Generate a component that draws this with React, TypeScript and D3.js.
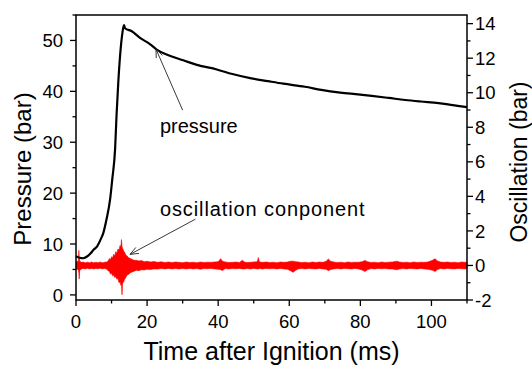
import React from "react";
import * as d3 from "d3";

// ---------- data ----------
const pressureTime = [0, 1, 2, 3, 4, 5, 6, 7, 7.7, 8.6, 9.6, 10.2, 11.0, 11.4, 11.9, 12.4, 13.1, 13.5, 13.8, 15.7, 18.0, 20.8, 22.7, 26, 30.2, 34, 39.6, 44, 49, 54, 58.3, 64.4, 69, 73.8, 78, 83.2, 88, 92.6, 97, 102, 106, 110];
const pressureBar = [7.6, 7.3, 7.2, 7.5, 8.1, 8.9, 9.6, 11, 12.2, 14.9, 18.8, 22.7, 28.7, 35.2, 41.8, 47, 51.7, 53.0, 52.4, 51.8, 50.5, 49.3, 48.2, 47.1, 46.1, 45.2, 44.3, 43.4, 42.6, 42.0, 41.5, 40.9, 40.3, 39.8, 39.5, 39.1, 38.7, 38.3, 38.0, 37.7, 37.3, 36.9];

// oscillation envelope (upper / lower extremes), ms and bar
const oscTime = [
  0, 0.5, 0.7, 0.8, 0.9, 1.05, 1.5, 2, 2.6, 3.2,
  3.8, 4.4, 5, 5.6, 6.2, 6.8, 7.4, 8, 8.6, 9.0,
  9.4, 9.7, 10, 10.3, 10.6, 10.9, 11.2, 11.5, 11.8, 12.1,
  12.4, 12.6, 12.8, 12.95, 13.1, 13.4, 13.7, 14.0, 14.4, 14.8,
  15.3, 15.8, 16.4, 17, 17.7, 18.4, 19.2, 20, 21, 21.8,
  23, 24, 25, 26, 27, 28, 29, 30, 31, 32,
  33, 34, 35, 36, 37, 38, 39, 40, 40.7, 41.2,
  42, 43, 44, 45, 46, 46.8, 47.4, 48.2, 49, 50,
  51, 51.3, 51.6, 52.5, 53.5, 54.5, 55.5, 56.5, 57.5, 58.5,
  59.5, 60.3, 61.1, 61.8, 62.5, 63.5, 64.5, 65.5, 66.5, 67.5,
  68.5, 69.5, 70.4, 71, 71.6, 72.5, 73.5, 74.5, 75.5, 76.5,
  77.5, 78.5, 79.5, 80.5, 81.3, 82, 83, 84, 85, 86,
  87, 88, 89, 90.2, 91, 92, 93, 94, 95, 96,
  97, 98, 99, 100.3, 101, 101.7, 102.5, 103.5, 104.5, 105.5,
  106.5, 107.5, 108.5, 109.5, 110,
];
const oscUpper = [
  0.2, 0.25, 0.3, 0.87, 0.5, 0.25, 0.18, 0.2, 0.15, 0.19,
  0.16, 0.2, 0.15, 0.19, 0.16, 0.2, 0.15, 0.19, 0.2, 0.25,
  0.4, 0.33, 0.5, 0.45, 0.65, 0.55, 0.8, 0.7, 0.95, 0.9,
  1.15, 1.05, 1.5, 1.1, 1.0, 0.85, 0.75, 0.6, 0.55, 0.45,
  0.4, 0.35, 0.3, 0.3, 0.26, 0.28, 0.22, 0.24, 0.2, 0.23,
  0.18, 0.21, 0.17, 0.2, 0.17, 0.2, 0.18, 0.16, 0.2, 0.17,
  0.19, 0.16, 0.2, 0.17, 0.19, 0.18, 0.2, 0.22, 0.39, 0.25,
  0.2, 0.17, 0.18, 0.2, 0.17, 0.3, 0.2, 0.17, 0.18, 0.2,
  0.22, 0.46, 0.2, 0.18, 0.2, 0.17, 0.19, 0.16, 0.2, 0.18,
  0.2, 0.24, 0.25, 0.22, 0.2, 0.17, 0.19, 0.16, 0.2, 0.17,
  0.2, 0.18, 0.25, 0.37, 0.25, 0.2, 0.17, 0.19, 0.16, 0.2,
  0.17, 0.19, 0.18, 0.22, 0.29, 0.22, 0.17, 0.19, 0.16, 0.2,
  0.17, 0.19, 0.2, 0.25, 0.2, 0.17, 0.19, 0.16, 0.2, 0.17,
  0.19, 0.18, 0.2, 0.3, 0.39, 0.26, 0.2, 0.18, 0.2, 0.17,
  0.19, 0.16, 0.2, 0.18, 0.19,
];
const oscLower = [
  -0.2, -0.22, -0.3, -0.45, -0.79, -0.3, -0.2, -0.17, -0.2, -0.16,
  -0.2, -0.18, -0.2, -0.17, -0.19, -0.16, -0.2, -0.18, -0.2, -0.3,
  -0.35, -0.5, -0.45, -0.6, -0.55, -0.7, -0.65, -0.8, -0.75, -1.0,
  -0.95, -1.15, -1.1, -1.7, -1.05, -0.95, -0.8, -0.7, -0.55, -0.52,
  -0.42, -0.38, -0.33, -0.28, -0.3, -0.25, -0.26, -0.22, -0.24, -0.2,
  -0.21, -0.18, -0.2, -0.17, -0.2, -0.18, -0.2, -0.18, -0.2, -0.17,
  -0.2, -0.18, -0.22, -0.18, -0.19, -0.17, -0.2, -0.22, -0.25, -0.29,
  -0.18, -0.2, -0.18, -0.19, -0.17, -0.2, -0.2, -0.18, -0.2, -0.17,
  -0.2, -0.2, -0.18, -0.2, -0.17, -0.19, -0.18, -0.2, -0.17, -0.2,
  -0.22, -0.3, -0.4, -0.28, -0.2, -0.18, -0.2, -0.17, -0.19, -0.2,
  -0.17, -0.2, -0.22, -0.3, -0.24, -0.2, -0.18, -0.2, -0.17, -0.19,
  -0.2, -0.17, -0.2, -0.27, -0.35, -0.25, -0.18, -0.2, -0.17, -0.19,
  -0.18, -0.2, -0.2, -0.25, -0.21, -0.18, -0.2, -0.17, -0.19, -0.2,
  -0.17, -0.2, -0.22, -0.28, -0.35, -0.24, -0.18, -0.2, -0.17, -0.19,
  -0.2, -0.17, -0.19, -0.2, -0.18,
];

const xTicks = [0, 20, 40, 60, 80, 100];
const xMinor = [10, 30, 50, 70, 90, 110];
const leftTicks = [0, 10, 20, 30, 40, 50];
const leftMinor = [5, 15, 25, 35, 45, 55];
const rightTicks = [-2, 0, 2, 4, 6, 8, 10, 12, 14];
const rightMinor = [-1, 1, 3, 5, 7, 9, 11, 13];

// ---------- layout ----------
const W = 532, H = 369;
const L = 76, R = 467, T = 15, B = 300;
const FONT = "'Liberation Sans', Arial, sans-serif";

export default function App() {
  const x = d3.scaleLinear().domain([0, 110]).range([L, R]);
  const yL = d3.scaleLinear().domain([-1, 55]).range([B, T]);
  const yR = d3.scaleLinear().domain([-2, 14.5]).range([B, T]);

  const pData = pressureTime.map((t, i) => [t, pressureBar[i]] as [number, number]);
  const line = d3.line<[number, number]>().x(d => x(d[0])).y(d => yL(d[1])).curve(d3.curveMonotoneX);

  const oData = oscTime.map((t, i) => ({ t, u: oscUpper[i], l: oscLower[i] }));
  const area = d3.area<{ t: number; u: number; l: number }>().x(d => x(d.t)).y0(d => yR(d.l)).y1(d => yR(d.u));

  const majorLen = 6, minorLen = 3.5;
  const tickStyle = { stroke: "#000", strokeWidth: 1.3 };

  const arrow = (x1: number, y1: number, x2: number, y2: number) => {
    const a = Math.atan2(y2 - y1, x2 - x1);
    const len = 9, sp = 0.38;
    const p1 = [x2 - len * Math.cos(a - sp), y2 - len * Math.sin(a - sp)];
    const p2 = [x2 - len * Math.cos(a + sp), y2 - len * Math.sin(a + sp)];
    return (
      <g stroke="#222" strokeWidth={0.9} fill="none">
        <line x1={x1} y1={y1} x2={x2} y2={y2} />
        <polyline points={`${p1[0]},${p1[1]} ${x2},${y2} ${p2[0]},${p2[1]}`} />
      </g>
    );
  };

  return (
    <svg width={W} height={H} style={{ position: "absolute", left: 0, top: 0, background: "#fff" }} fontFamily={FONT}>
      <rect x={0} y={0} width={W} height={H} fill="#fff" />
      {/* data */}
      <path d={area(oData) ?? ""} fill="#ff0000" stroke="#ff0000" strokeWidth={0.6} />
      <path d={line(pData) ?? ""} fill="none" stroke="#000" strokeWidth={2.2} />

      {/* frame */}
      <rect x={L} y={T} width={R - L} height={B - T} fill="none" stroke="#000" strokeWidth={1.5} />

      {/* bottom axis */}
      {xTicks.map(v => (
        <g key={"xt" + v}>
          <line x1={x(v)} x2={x(v)} y1={B} y2={B + majorLen} {...tickStyle} />
          <text x={x(v)} y={328} fontSize={18.5} textAnchor="middle">{v}</text>
        </g>
      ))}
      {xMinor.map(v => (
        <line key={"xm" + v} x1={x(v)} x2={x(v)} y1={B} y2={B + minorLen} {...tickStyle} />
      ))}

      {/* left axis */}
      {leftTicks.map(v => (
        <g key={"lt" + v}>
          <line x1={L - majorLen} x2={L} y1={yL(v)} y2={yL(v)} {...tickStyle} />
          <text x={63} y={yL(v) + 6.6} fontSize={18.5} textAnchor="end">{v}</text>
        </g>
      ))}
      {leftMinor.map(v => (
        <line key={"lm" + v} x1={L - minorLen} x2={L} y1={yL(v)} y2={yL(v)} {...tickStyle} />
      ))}

      {/* right axis */}
      {rightTicks.map(v => (
        <g key={"rt" + v}>
          <line x1={R} x2={R + majorLen} y1={yR(v)} y2={yR(v)} {...tickStyle} />
          <text x={475} y={yR(v) + 6.6} fontSize={18.5} textAnchor="start">{v}</text>
        </g>
      ))}
      {rightMinor.map(v => (
        <line key={"rm" + v} x1={R} x2={R + minorLen} y1={yR(v)} y2={yR(v)} {...tickStyle} />
      ))}

      {/* axis titles */}
      <text x={(L + R) / 2} y={360} fontSize={25} textAnchor="middle">Time after Ignition (ms)</text>
      <text transform={`translate(31,169) rotate(-90)`} fontSize={24} textAnchor="middle">Pressure (bar)</text>
      <text transform={`translate(527,162) rotate(-90)`} fontSize={23} textAnchor="middle">Oscillation (bar)</text>

      {/* annotations */}
      {arrow(x(30), yL(36.3), x(22.5), yL(48.3))}
      <text x={x(23.6)} y={yL(31.9)} fontSize={20}>pressure</text>
      {arrow(x(33.6), yR(2.68), x(15.2), yR(0.64))}
      <text x={x(23.6)} y={yR(2.86)} fontSize={20} letterSpacing={0.9}>oscillation conponent</text>
    </svg>
  );
}
